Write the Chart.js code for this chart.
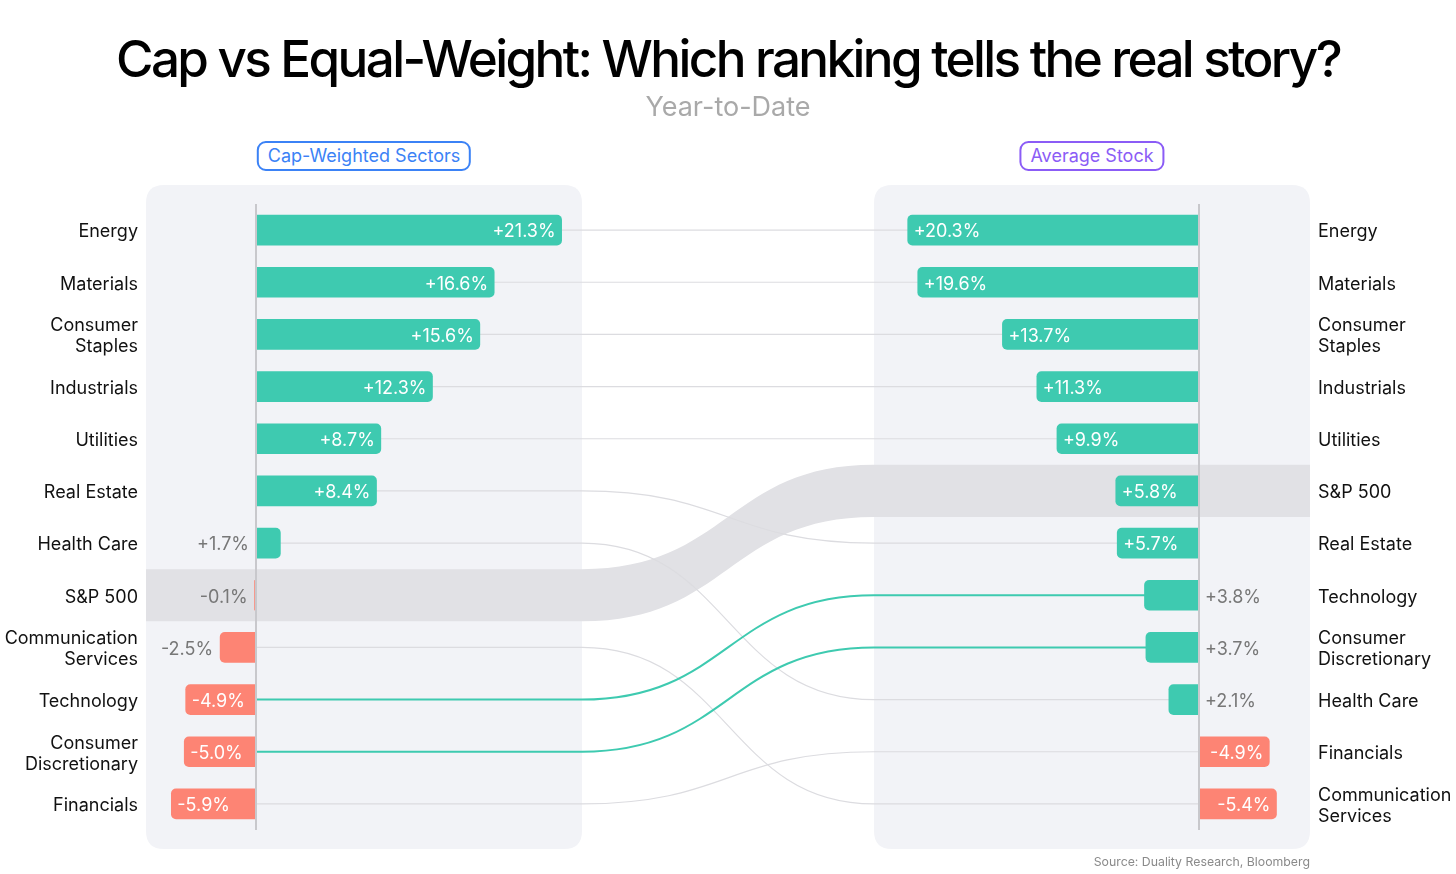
<!DOCTYPE html>
<html>
<head>
<meta charset="utf-8">
<script src="https://cdn.jsdelivr.net/npm/chart.js@4.4.1/dist/chart.umd.min.js"></script>
<style>
  html, body { margin: 0; padding: 0; background: #fff; }
  body { width: 1456px; height: 874px; position: relative; overflow: hidden; font-family: Inter, "Noto Sans", sans-serif; }
  #chart { position: absolute; left: 0; top: 0; }
  .title { position: absolute; left: 0; width: 1456px; top: 26px; text-align: center; font-size: 51.2px; font-weight: 500; letter-spacing: -2.6px; color: #000; line-height: 64px; white-space: nowrap; }
  .subtitle { position: absolute; left: 0; width: 1456px; top: 90px; text-align: center; font-size: 27px; font-weight: 400; color: #a9a9a9; line-height: 34px; }
  .badge { position: absolute; top: 141px; height: 26px; line-height: 26px; padding: 0 9px; border: 2px solid; border-radius: 9px; font-size: 18px; transform: translateX(-50%); white-space: nowrap; background: #fff; }
  .badge.left { left: 364px; color: #3b82f6; border-color: #3b82f6; }
  .badge.right { left: 1092px; color: #8b5cf6; border-color: #8b5cf6; }
  .source { position: absolute; right: 146px; top: 854px; font-size: 12.3px; color: #8a8a8a; white-space: nowrap; }
</style>
</head>
<body>
<canvas id="chart" width="1456" height="874"></canvas>
<div class="title">Cap vs Equal-Weight: Which ranking tells the real story?</div>
<div class="subtitle">Year-to-Date</div>
<div class="badge left">Cap-Weighted Sectors</div>
<div class="badge right">Average Stock</div>
<div class="source">Source: Duality Research, Bloomberg</div>
<script>
// ---- data ----
const leftCategories = ['Energy', 'Materials', 'Consumer Staples', 'Industrials', 'Utilities', 'Real Estate', 'Health Care', 'S&P 500', 'Communication Services', 'Technology', 'Consumer Discretionary', 'Financials'];
const leftValues = [21.3, 16.6, 15.6, 12.3, 8.7, 8.4, 1.7, -0.1, -2.5, -4.9, -5.0, -5.9];
const rightCategories = ['Energy', 'Materials', 'Consumer Staples', 'Industrials', 'Utilities', 'S&P 500', 'Real Estate', 'Technology', 'Consumer Discretionary', 'Health Care', 'Financials', 'Communication Services'];
const rightValues = [20.3, 19.6, 13.7, 11.3, 9.9, 5.8, 5.7, 3.8, 3.7, 2.1, -4.9, -5.4];
const benchmark = 'S&P 500';

// ---- styles ----
const TEAL = '#3ecab0';
const RED = '#fd8474';
const PANEL = '#f2f3f7';
const BAND = '#e1e1e5';
const LINK = '#dcdce0';
const ZERO = '#c8c8cc';
const PANEL_W = 436;
const FONT = 'Inter, "Noto Sans", sans-serif';
const INSIDE_MIN = 4.5;

const fmt = v => (v > 0 ? '+' : '') + v.toFixed(1) + '%';
const splitLabel = s => (s.length > 12 ? s.split(' ') : s);

function roundRect(ctx, x, y, w, h, r) {
  ctx.beginPath();
  ctx.moveTo(x + r, y);
  ctx.lineTo(x + w - r, y);
  ctx.quadraticCurveTo(x + w, y, x + w, y + r);
  ctx.lineTo(x + w, y + h - r);
  ctx.quadraticCurveTo(x + w, y + h, x + w - r, y + h);
  ctx.lineTo(x + r, y + h);
  ctx.quadraticCurveTo(x, y + h, x, y + h - r);
  ctx.lineTo(x, y + r);
  ctx.quadraticCurveTo(x, y, x + r, y);
  ctx.closePath();
}

const flowPlugin = {
  id: 'flow',
  beforeDraw(chart) {
    const { ctx, chartArea: a } = chart;
    ctx.save();
    ctx.fillStyle = PANEL;
    roundRect(ctx, a.left, a.top - 19, PANEL_W, a.bottom - a.top + 38, 18);
    ctx.fill();
    roundRect(ctx, a.right - PANEL_W, a.top - 19, PANEL_W, a.bottom - a.top + 38, 18);
    ctx.fill();
    ctx.restore();
  },
  beforeDatasetsDraw(chart) {
    const { ctx, chartArea: a, scales } = chart;
    const { xL, xR, yL, yR } = scales;
    const rh = yL.getPixelForValue(1) - yL.getPixelForValue(0);
    const L0 = a.left, L1 = a.left + PANEL_W, R0 = a.right - PANEL_W, R1 = a.right;
    const mid = (L1 + R0) / 2;
    ctx.save();
    // benchmark band
    const yl = yL.getPixelForValue(leftCategories.indexOf(benchmark));
    const yr = yR.getPixelForValue(rightCategories.indexOf(benchmark));
    ctx.fillStyle = BAND;
    ctx.beginPath();
    ctx.moveTo(L0, yl - rh / 2);
    ctx.lineTo(L1, yl - rh / 2);
    ctx.bezierCurveTo(mid, yl - rh / 2, mid, yr - rh / 2, R0, yr - rh / 2);
    ctx.lineTo(R1, yr - rh / 2);
    ctx.lineTo(R1, yr + rh / 2);
    ctx.lineTo(R0, yr + rh / 2);
    ctx.bezierCurveTo(mid, yr + rh / 2, mid, yl + rh / 2, L1, yl + rh / 2);
    ctx.lineTo(L0, yl + rh / 2);
    ctx.closePath();
    ctx.fill();
    // connectors
    const links = [];
    leftCategories.forEach((name, i) => {
      if (name === benchmark) return;
      const j = rightCategories.indexOf(name);
      if (j < 0) return;
      const hl = leftValues[i] < 0 && rightValues[j] > 0;
      links.push({ i, j, hl });
    });
    links.sort((p, q) => (p.hl ? 1 : 0) - (q.hl ? 1 : 0));
    const xs = xL.getPixelForValue(0), xe = xR.getPixelForValue(0);
    links.forEach(({ i, j, hl }) => {
      const ys = yL.getPixelForValue(i), ye = yR.getPixelForValue(j);
      ctx.beginPath();
      ctx.moveTo(xs, ys);
      ctx.lineTo(L1, ys);
      ctx.bezierCurveTo(mid, ys, mid, ye, R0, ye);
      ctx.lineTo(xe, ye);
      ctx.strokeStyle = hl ? TEAL : LINK;
      ctx.lineWidth = hl ? 2 : 1.2;
      ctx.stroke();
    });
    ctx.restore();
  },
  afterDatasetsDraw(chart) {
    const { ctx, chartArea: a, scales } = chart;
    ctx.save();
    // zero lines
    ctx.strokeStyle = ZERO;
    ctx.lineWidth = 2;
    [scales.xL, scales.xR].forEach(s => {
      const x = Math.round(s.getPixelForValue(0));
      ctx.beginPath();
      ctx.moveTo(x, a.top);
      ctx.lineTo(x, a.bottom);
      ctx.stroke();
    });
    // value labels
    ctx.font = '18px ' + FONT;
    ctx.textBaseline = 'middle';
    chart.data.datasets.forEach((ds, di) => {
      const meta = chart.getDatasetMeta(di);
      const isLeft = di === 0;
      meta.data.forEach((el, k) => {
        const v = ds.data[k];
        const { x, y, base } = el.getProps(['x', 'y', 'base'], true);
        const inside = Math.abs(v) >= INSIDE_MIN;
        let tx, align;
        if (inside) {
          ctx.fillStyle = '#fff';
          if (x < base) { tx = x + 6; align = 'left'; } else { tx = x - 6; align = 'right'; }
        } else {
          ctx.fillStyle = '#777';
          if (isLeft) { tx = Math.min(x, base) - 7; align = 'right'; }
          else { tx = Math.max(x, base) + 6; align = 'left'; }
        }
        ctx.textAlign = align;
        ctx.fillText(fmt(v), tx, y + 2);
      });
    });
    ctx.restore();
  }
};

const tickCommon = {
  padding: 8,
  labelOffset: 2,
  color: '#111',
  font: { family: FONT, size: 18, lineHeight: 1.17 },
};

new Chart(document.getElementById('chart'), {
  type: 'bar',
  data: {
    datasets: [
      {
        label: 'Cap-Weighted Sectors',
        data: leftValues,
        xAxisID: 'xL',
        yAxisID: 'yL',
        backgroundColor: c => (c.raw >= 0 ? TEAL : RED),
      },
      {
        label: 'Average Stock',
        data: rightValues,
        xAxisID: 'xR',
        yAxisID: 'yR',
        backgroundColor: c => (c.raw >= 0 ? TEAL : RED),
      }
    ]
  },
  options: {
    responsive: false,
    animation: false,
    devicePixelRatio: 1,
    indexAxis: 'y',
    layout: { padding: { top: 204, bottom: 44, left: 0, right: 0 } },
    plugins: { legend: { display: false }, tooltip: { enabled: false } },
    datasets: { bar: { barThickness: 30, borderRadius: 5, grouped: false, borderSkipped: 'start' } },
    scales: {
      xL: { type: 'linear', position: 'bottom', display: false, min: -7.665, max: 73.45 },
      xR: { type: 'linear', position: 'bottom', display: false, reverse: true, min: -7.735, max: 73.38 },
      yL: {
        type: 'category', position: 'left', labels: leftCategories, offset: true,
        grid: { display: false, drawTicks: false }, border: { display: false },
        ticks: Object.assign({}, tickCommon, { callback(v) { return splitLabel(this.getLabelForValue(v)); } }),
        afterFit(s) { s.width = 146; }
      },
      yR: {
        type: 'category', position: 'right', labels: rightCategories, offset: true,
        grid: { display: false, drawTicks: false }, border: { display: false },
        ticks: Object.assign({}, tickCommon, { callback(v) { return splitLabel(this.getLabelForValue(v)); } }),
        afterFit(s) { s.width = 146; }
      }
    }
  },
  plugins: [flowPlugin]
});
</script>
</body>
</html>
